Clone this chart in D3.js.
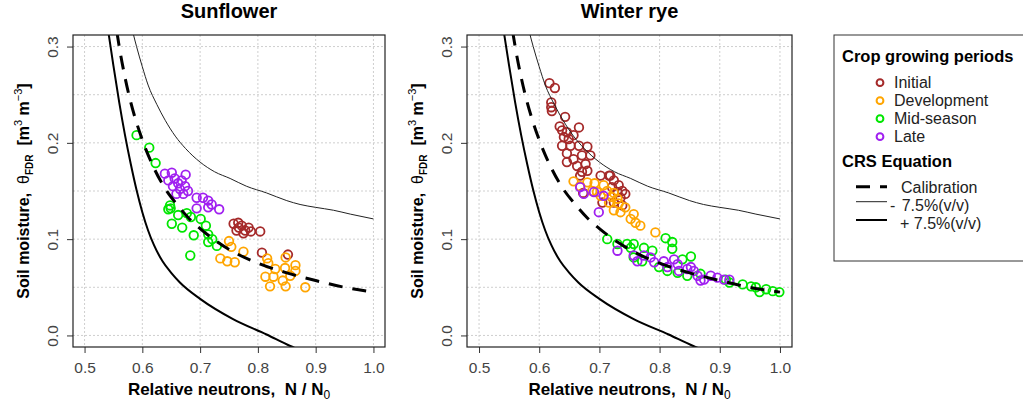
<!DOCTYPE html>
<html>
<head>
<meta charset="utf-8">
<script src="https://cdn.jsdelivr.net/npm/d3@7"></script>
<style>
  body { margin: 0; background: #fff; }
  svg { display: block; font-family: "Liberation Sans", Arial, Helvetica, sans-serif; }
</style>
</head>
<body>
<div id="chart"></div>
<script>
// ---- values ----
var xTicks = [0.5, 0.6, 0.7, 0.8, 0.9, 1.0];
var yTicks = [0.0, 0.1, 0.2, 0.3];
var yGrid = [0.0, 0.05, 0.1, 0.15, 0.2, 0.25, 0.3];
var periods = ["Initial", "Development", "Mid-season", "Late"];
var crsNames = ["Calibration", "-", "+ 7.5%(v/v)"];

// CRS curves [N/N0, theta]
var calibration = [[0.550,0.340],[0.556,0.315],[0.560,0.300],[0.570,0.268],[0.580,0.242],[0.590,0.221],
  [0.600,0.203],[0.620,0.174],[0.640,0.152],[0.660,0.136],[0.680,0.122],[0.700,0.111],[0.730,0.097],
  [0.760,0.086],[0.800,0.075],[0.850,0.065],[0.900,0.057],[0.950,0.050],[1.000,0.045]];
var minus75 = [[0.578,0.330],[0.584,0.314],[0.590,0.300],[0.600,0.279],[0.610,0.260],[0.625,0.240],
  [0.640,0.223],[0.657,0.207],[0.675,0.194],[0.700,0.180],[0.725,0.170],[0.752,0.163],[0.780,0.155],
  [0.815,0.148],[0.850,0.140],[0.873,0.136],[0.900,0.133],[0.931,0.130],[0.960,0.126],[1.000,0.121]];
var plus75 = [[0.540,0.320],[0.550,0.280],[0.560,0.242],[0.570,0.208],[0.580,0.178],[0.590,0.151],
  [0.600,0.128],[0.610,0.109],[0.620,0.094],[0.635,0.077],[0.650,0.065],[0.665,0.055],[0.700,0.038],
  [0.757,0.017],[0.815,0.001],[0.856,-0.011],[0.880,-0.017]];

// Sunflower observations [N/N0, theta]
var sunInitial = [[0.758,0.116],[0.766,0.117],[0.772,0.114],[0.763,0.109],[0.778,0.109],[0.784,0.112],
  [0.775,0.106],[0.788,0.108],[0.804,0.108],[0.767,0.112],[0.807,0.086],[0.852,0.084]];
var sunDevelopment = [[0.750,0.098],[0.754,0.092],[0.775,0.087],[0.735,0.080],[0.747,0.077],[0.760,0.076],
  [0.816,0.080],[0.818,0.075],[0.813,0.061],[0.827,0.061],[0.821,0.051],[0.843,0.057],[0.848,0.081],
  [0.847,0.070],[0.865,0.073],[0.856,0.062],[0.848,0.051],[0.882,0.050],[0.865,0.067],[0.830,0.069]];
var sunMidseason = [[0.590,0.208],[0.612,0.195],[0.623,0.179],[0.648,0.135],[0.649,0.132],[0.645,0.131],
  [0.662,0.125],[0.677,0.127],[0.651,0.116],[0.669,0.112],[0.684,0.123],[0.689,0.104],[0.701,0.121],
  [0.710,0.114],[0.714,0.105],[0.714,0.097],[0.721,0.100],[0.729,0.093],[0.683,0.083]];
var sunLate = [[0.639,0.168],[0.651,0.169],[0.645,0.161],[0.656,0.163],[0.662,0.158],[0.653,0.155],
  [0.668,0.161],[0.674,0.155],[0.665,0.152],[0.671,0.147],[0.679,0.150],[0.659,0.147],[0.694,0.143],
  [0.705,0.143],[0.714,0.140],[0.720,0.136],[0.733,0.131],[0.694,0.132],[0.714,0.133],[0.675,0.167]];

// Winter rye observations [N/N0, theta]
var ryeInitial = [[0.617,0.262],[0.626,0.257],[0.620,0.242],[0.620,0.237],[0.621,0.233],[0.643,0.227],
  [0.634,0.217],[0.638,0.213],[0.646,0.211],[0.666,0.216],[0.641,0.206],[0.649,0.204],[0.657,0.208],
  [0.638,0.197],[0.652,0.197],[0.666,0.197],[0.680,0.196],[0.646,0.189],[0.657,0.183],[0.671,0.187],
  [0.685,0.187],[0.646,0.180],[0.663,0.176],[0.677,0.178],[0.680,0.171],[0.671,0.170],[0.668,0.166],
  [0.716,0.166],[0.724,0.161],[0.732,0.156],[0.738,0.150],[0.743,0.147],[0.721,0.154],[0.730,0.149],
  [0.735,0.143],[0.724,0.138],[0.738,0.135],[0.702,0.166],[0.718,0.166],[0.705,0.138],[0.673,0.148]];
var ryeDevelopment = [[0.657,0.160],[0.680,0.159],[0.692,0.158],[0.707,0.156],[0.688,0.150],[0.696,0.149],
  [0.713,0.150],[0.724,0.148],[0.702,0.145],[0.730,0.142],[0.716,0.138],[0.732,0.137],[0.724,0.130],
  [0.735,0.128],[0.743,0.133],[0.757,0.126],[0.752,0.121],[0.760,0.117],[0.768,0.114],[0.793,0.107],
  [0.720,0.144],[0.668,0.155]];
var ryeMidseason = [[0.713,0.100],[0.730,0.095],[0.746,0.095],[0.757,0.095],[0.752,0.091],[0.774,0.091],
  [0.788,0.088],[0.810,0.101],[0.821,0.097],[0.821,0.090],[0.852,0.082],[0.838,0.079],[0.846,0.062],
  [0.799,0.071],[0.813,0.067],[0.830,0.065],[0.771,0.077],[0.757,0.081],[0.938,0.053],[0.952,0.051],
  [0.960,0.050],[0.966,0.045],[0.977,0.048],[0.988,0.046],[0.999,0.045],[0.916,0.055],[0.910,0.058],
  [0.868,0.064]];
var ryeLate = [[0.668,0.154],[0.674,0.147],[0.691,0.149],[0.707,0.145],[0.699,0.128],[0.730,0.088],
  [0.757,0.083],[0.763,0.077],[0.774,0.083],[0.785,0.081],[0.791,0.076],[0.807,0.077],[0.813,0.071],
  [0.824,0.079],[0.830,0.074],[0.832,0.067],[0.846,0.069],[0.852,0.071],[0.857,0.067],[0.863,0.062],
  [0.868,0.057],[0.874,0.058],[0.885,0.062],[0.896,0.060],[0.907,0.058],[0.916,0.058]];

var color = d3.scaleOrdinal().domain(periods).range(["#a52a2a", "#ffa500", "#00e600", "#a020f0"]);

var svg = d3.select("#chart").append("svg")
  .attr("width", 1023)
  .attr("height", 405);
var defs = svg.append("defs");

var plotTop = 35, plotHeight = 312;

function drawPanel(id, title, left, width, sets) {
  var x = d3.scaleLinear().domain([0.48, 1.02]).range([left, left + width]);
  var y = d3.scaleLinear().domain([-0.012, 0.312]).range([plotTop + plotHeight, plotTop]);
  var g = svg.append("g").attr("class", "panel-" + id);

  // dotted grid
  g.selectAll(".vgrid").data(xTicks).enter().append("line")
    .attr("x1", d => x(d)).attr("x2", d => x(d))
    .attr("y1", plotTop).attr("y2", plotTop + plotHeight)
    .attr("stroke", "#cfcfcf").attr("stroke-dasharray", "2,2");
  g.selectAll(".hgrid").data(yGrid).enter().append("line")
    .attr("x1", left).attr("x2", left + width)
    .attr("y1", d => y(d)).attr("y2", d => y(d))
    .attr("stroke", "#cfcfcf").attr("stroke-dasharray", "2,2");

  defs.append("clipPath").attr("id", "clip-" + id)
    .append("rect").attr("x", left).attr("y", plotTop).attr("width", width).attr("height", plotHeight);
  var plot = g.append("g").attr("clip-path", "url(#clip-" + id + ")");

  // observations
  sets.forEach(function (pts, i) {
    plot.append("g").selectAll("circle").data(pts).enter().append("circle")
      .attr("cx", d => x(d[0]))
      .attr("cy", d => y(d[1]))
      .attr("r", 4.3)
      .attr("fill", "none")
      .attr("stroke", color(periods[i]))
      .attr("stroke-width", 1.8);
  });

  // CRS curves
  var line = d3.line().x(d => x(d[0])).y(d => y(d[1])).curve(d3.curveMonotoneX);
  plot.append("path").datum(minus75).attr("d", line)
    .attr("fill", "none").attr("stroke", "#222").attr("stroke-width", 1);
  plot.append("path").datum(plus75).attr("d", line)
    .attr("fill", "none").attr("stroke", "#000").attr("stroke-width", 2);
  plot.append("path").datum(calibration).attr("d", line)
    .attr("fill", "none").attr("stroke", "#000").attr("stroke-width", 3)
    .attr("stroke-dasharray", "14,10");

  // axes
  var xAxis = g.append("g")
    .attr("transform", "translate(0," + (plotTop + plotHeight) + ")")
    .call(d3.axisBottom(x).tickValues(xTicks).tickFormat(d3.format(".1f"))
      .tickSize(6).tickPadding(9).tickSizeOuter(0));
  var yAxis = g.append("g")
    .attr("transform", "translate(" + left + ",0)")
    .call(d3.axisLeft(y).tickValues(yTicks).tickFormat(d3.format(".1f"))
      .tickSize(6).tickSizeOuter(0));
  [xAxis, yAxis].forEach(function (a) {
    a.select(".domain").remove();
    a.selectAll("line").attr("stroke", "#333");
    a.selectAll("text").attr("fill", "#444")
      .style("font-size", "15.5px").style("font-family", "Liberation Sans, Arial, sans-serif");
  });
  yAxis.selectAll("text")
    .attr("transform", "rotate(-90)")
    .attr("x", 0).attr("y", -14.7).attr("dy", 0)
    .style("text-anchor", "middle");

  // box
  g.append("rect")
    .attr("x", left).attr("y", plotTop).attr("width", width).attr("height", plotHeight)
    .attr("fill", "none").attr("stroke", "#222").attr("stroke-width", 1.2);

  // title
  g.append("text")
    .attr("x", left + width / 2).attr("y", 18)
    .attr("text-anchor", "middle")
    .style("font-size", "20px").style("font-weight", "bold")
    .text(title);

  // x label
  var xl = g.append("text")
    .attr("x", left + width / 2).attr("y", 395)
    .attr("text-anchor", "middle")
    .style("font-size", "17px").style("font-weight", "bold")
    .style("white-space", "pre");
  xl.append("tspan").text("Relative neutrons,  N / N");
  xl.append("tspan").attr("dy", 4).style("font-size", "12px").style("font-weight", "normal").text("0");

  // y label
  var yl = g.append("text")
    .attr("transform", "translate(" + (left - 44) + "," + (plotTop + plotHeight / 2) + ") rotate(-90)")
    .attr("text-anchor", "middle")
    .style("font-size", "16px").style("font-weight", "bold")
    .style("white-space", "pre");
  yl.append("tspan").text("Soil moisture,  ");
  yl.append("tspan").style("font-weight", "normal").text("θ");
  yl.append("tspan").attr("dy", 4).style("font-size", "10px").text("FDR");
  yl.append("tspan").attr("dy", -4).text("  [m");
  yl.append("tspan").attr("dy", -7).style("font-size", "11px").style("font-weight", "normal").text("3");
  yl.append("tspan").attr("dy", 7).text(" m");
  yl.append("tspan").attr("dy", -7).style("font-size", "11px").style("font-weight", "normal").text("−3");
  yl.append("tspan").attr("dy", 7).text("]");
}

drawPanel("sun", "Sunflower", 73, 312, [sunInitial, sunDevelopment, sunMidseason, sunLate]);
drawPanel("rye", "Winter rye", 467, 325, [ryeInitial, ryeDevelopment, ryeMidseason, ryeLate]);

// ---- legend ----
var lg = svg.append("g").attr("class", "legend");
lg.append("rect")
  .attr("x", 834).attr("y", 35).attr("width", 220).attr("height", 226)
  .attr("fill", "#fff").attr("stroke", "#333").attr("stroke-width", 1);
lg.append("text").attr("x", 842).attr("y", 62)
  .style("font-size", "16.5px").style("font-weight", "bold").text("Crop growing periods");
periods.forEach(function (p, i) {
  lg.append("circle")
    .attr("cx", 880).attr("cy", 82.7 + i * 18)
    .attr("r", 3.4).attr("fill", "none")
    .attr("stroke", color(p)).attr("stroke-width", 2);
  lg.append("text").attr("x", 894).attr("y", 88.3 + i * 18)
    .style("font-size", "16px").attr("fill", "#222").text(p);
});
lg.append("text").attr("x", 842).attr("y", 166.7)
  .style("font-size", "16.5px").style("font-weight", "bold").text("CRS Equation");

lg.append("line").attr("x1", 856).attr("x2", 887).attr("y1", 186.7).attr("y2", 186.7)
  .attr("stroke", "#000").attr("stroke-width", 3).attr("stroke-dasharray", "14,10");
lg.append("line").attr("x1", 856).attr("x2", 887).attr("y1", 201.7).attr("y2", 201.7)
  .attr("stroke", "#222").attr("stroke-width", 1);
lg.append("line").attr("x1", 856).attr("x2", 887).attr("y1", 220).attr("y2", 220)
  .attr("stroke", "#000").attr("stroke-width", 2);

lg.append("text").attr("x", 901).attr("y", 192.7)
  .style("font-size", "16px").attr("fill", "#222").text(crsNames[0]);
lg.append("text").attr("x", 890).attr("y", 211)
  .style("font-size", "16px").attr("fill", "#222").text(crsNames[1]);
lg.append("text").attr("x", 901.7).attr("y", 211)
  .style("font-size", "16px").attr("fill", "#222").text("7.5%(v/v)");
lg.append("text").attr("x", 900).attr("y", 228.5)
  .style("font-size", "16px").attr("fill", "#222").text(crsNames[2]);
</script>
</body>
</html>
